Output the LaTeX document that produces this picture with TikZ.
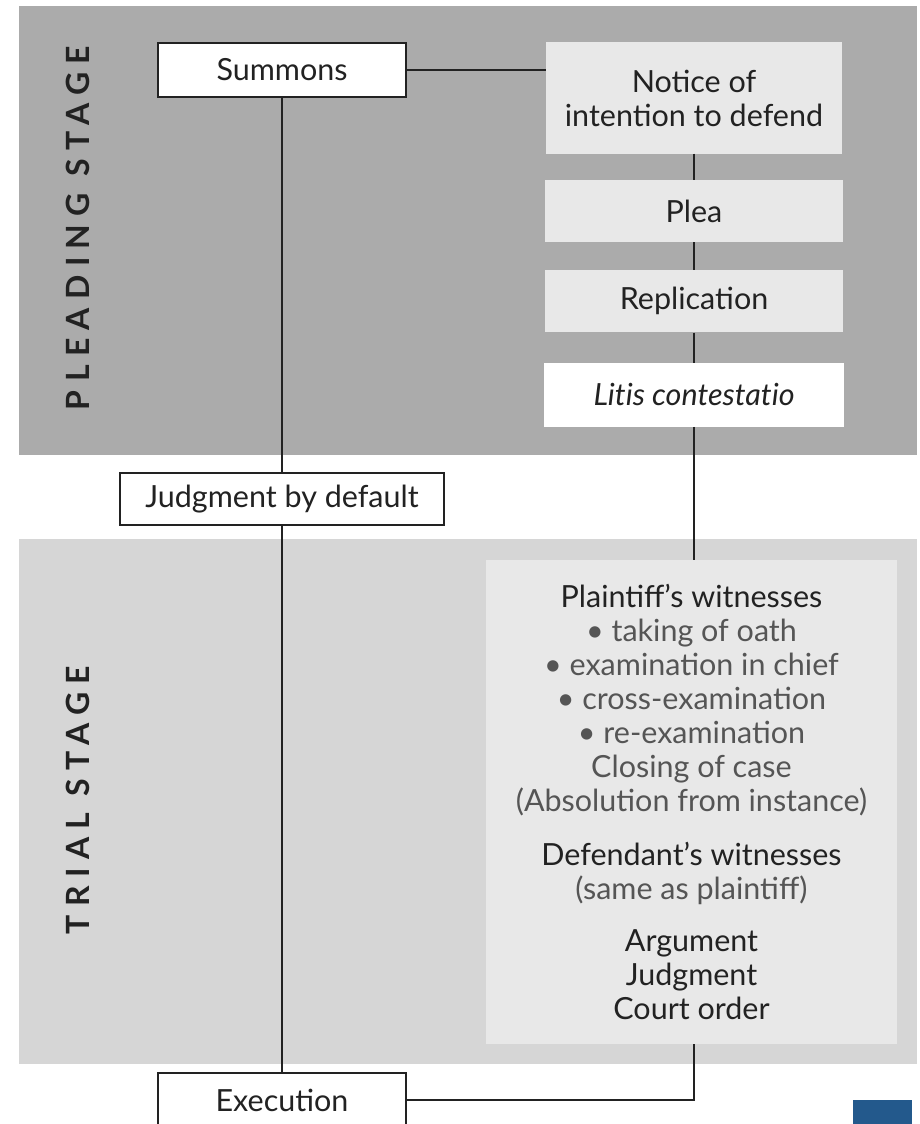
\documentclass[tikz,border=0pt]{standalone}
\usepackage{fontspec}
\setmainfont{Lato}
\newfontfamily\stagefont[LetterSpace=26]{Lato}
\usetikzlibrary{positioning}
\definecolor{pleadbg}{HTML}{ABABAB}
\definecolor{trialbg}{HTML}{D6D6D6}
\definecolor{stepfill}{HTML}{E8E8E8}
\definecolor{ink}{HTML}{222222}
\definecolor{soft}{HTML}{555555}
\definecolor{boxblue}{HTML}{23598C}
\newcommand{\sub}[1]{{\color{soft}#1}}

\begin{document}
\begin{tikzpicture}[x=1pt, y=-1pt,
    every node/.style={font=\fontsize{30.5}{34}\selectfont, text=ink},
    whitebox/.style={
      draw=ink, fill=white, line width=1.2pt, inner sep=0pt,
      minimum height=54pt
    },
    pleabox/.style={
      fill=stepfill, inner sep=0pt, align=center,
      minimum width=298pt, minimum height=62pt
    },
    link/.style={ink, line width=1.2pt},
    stagelabel/.style={rotate=90, text=ink,
      font=\stagefont\bfseries\fontsize{32}{32}\selectfont}
]
  \useasboundingbox (0,0) rectangle (920,1124);
  \clip (0,0) rectangle (920,1124);

  % stage panels
  \fill[pleadbg] (19,6) rectangle (917,455);
  \fill[trialbg] (19,539) rectangle (917,1064);
  \node[stagelabel] (pleading) at (78,228) {PLEADING STAGE};
  \node[stagelabel] (trial) at (78,800) {TRIAL STAGE};

  % left column
  \node[whitebox, minimum width=248pt] (summons) at (282,70) {Summons};
  \node[whitebox, minimum width=324pt, minimum height=52pt] (default) at (282,499) {Judgment by default};
  \node[whitebox, minimum width=248pt] (execution) at (282,1100) {Execution};

  % right column
  \node[pleabox, minimum width=296pt, minimum height=111pt] (notice) at (694,98) {Notice of\\intention to defend};
  \node[pleabox, below=26pt of notice] (plea) {Plea};
  \node[pleabox, below=28pt of plea] (replication) {Replication};
  \node[pleabox, fill=white, minimum width=300pt, minimum height=64pt, below=30pt of replication] (litis) {\itshape\addfontfeature{Ligatures=NoCommon}Litis contestatio};

  \node[fill=stepfill, align=center, inner sep=0pt, minimum width=411pt, minimum height=484pt, anchor=north] (hearing) at (691.5,560) {%
    Plaintiff’s witnesses\\
    \sub{\textbullet\ taking of oath}\\
    \sub{\textbullet\ examination in chief}\\
    \sub{\textbullet\ cross-examination}\\
    \sub{\textbullet\ re-examination}\\
    \sub{Closing of case}\\
    \sub{(Absolution from instance)}\\[20pt]
    Defendant’s witnesses\\
    \sub{(same as plaintiff)}\\[18pt]
    Argument\\
    Judgment\\
    Court order};

  \fill[boxblue] (853,1100) rectangle (912,1124);

  % connectors
  \draw[link] (summons.east) -- (summons.east -| notice.west);
  \draw[link] (summons) -- (default);
  \draw[link] (default) -- (execution);
  \draw[link] (notice) -- (plea);
  \draw[link] (plea) -- (replication);
  \draw[link] (replication) -- (litis);
  \draw[link] (litis.south) -- (litis.south |- hearing.north);
  \draw[link] (litis.south |- hearing.south) |- (execution.east);
\end{tikzpicture}
\end{document}
